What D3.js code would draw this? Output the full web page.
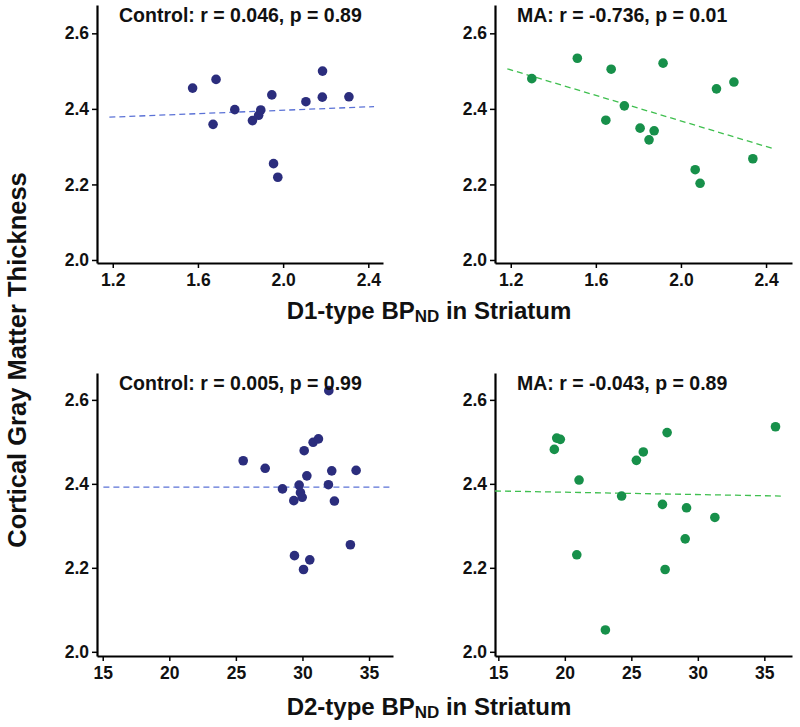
<!DOCTYPE html>
<html>
<head>
<meta charset="utf-8">
<script src="https://cdn.jsdelivr.net/npm/d3@7"></script>
<style>
  body { margin: 0; background: #fff; }
  text { font-family: "Liberation Sans", Arial, sans-serif; font-weight: bold; }
</style>
</head>
<body>
<script>
const svgW = 800;
const svgH = 727;

// D1-type BPND vs thickness, control group
const d1CtrlX = [1.575, 1.685, 1.671, 1.773, 1.856, 1.885, 1.895, 1.947, 1.955, 1.975, 2.107, 2.185, 2.184, 2.309];
const d1CtrlY = [2.455, 2.478, 2.359, 2.398, 2.369, 2.383, 2.397, 2.437, 2.255, 2.219, 2.419, 2.500, 2.431, 2.432];
// D1-type, MA group
const d1MaX = [1.299, 1.513, 1.672, 1.647, 1.734, 1.808, 1.850, 1.874, 1.916, 2.067, 2.090, 2.167, 2.249, 2.338];
const d1MaY = [2.480, 2.534, 2.505, 2.370, 2.408, 2.349, 2.318, 2.342, 2.521, 2.239, 2.203, 2.453, 2.471, 2.268];
// D2-type, control group
const d2CtrlX = [25.55, 27.2, 28.5, 29.35, 29.75, 29.85, 29.98, 30.13, 30.33, 30.8, 31.2, 31.98, 31.95, 32.2, 32.4, 34.03, 33.6, 29.4, 30.55, 30.08];
const d2CtrlY = [2.455, 2.437, 2.388, 2.360, 2.397, 2.379, 2.368, 2.479, 2.419, 2.499, 2.507, 2.622, 2.398, 2.431, 2.359, 2.432, 2.255, 2.229, 2.219, 2.196];
// D2-type, MA group
const d2MaX = [19.21, 19.39, 19.66, 21.07, 20.9, 23.05, 24.27, 25.38, 25.9, 27.34, 27.69, 27.54, 29.05, 29.15, 31.28, 35.84];
const d2MaY = [2.482, 2.509, 2.506, 2.409, 2.231, 2.052, 2.371, 2.456, 2.476, 2.351, 2.522, 2.196, 2.269, 2.343, 2.320, 2.536];

// fitted lines (end points)
const fitD1CtrlX = [1.184, 2.427], fitD1CtrlY = [2.378, 2.406];
const fitD1MaX = [1.184, 2.432], fitD1MaY = [2.506, 2.295];
const fitD2CtrlX = [15.05, 36.55], fitD2CtrlY = [2.392, 2.392];
const fitD2MaX = [14.75, 36.24], fitD2MaY = [2.383, 2.371];

const titles = ['Control: r = 0.046, p = 0.89', 'MA: r = -0.736, p = 0.01',
                'Control: r = 0.005, p = 0.99', 'MA: r = -0.043, p = 0.89'];
const yTicks = [2.0, 2.2, 2.4, 2.6];
const d1Ticks = [1.2, 1.6, 2.0, 2.4];
const d2Ticks = [15, 20, 25, 30, 35];

const ctrlDot = '#2b2d7d', ctrlLine = '#5b72d6';
const maDot = '#17904a', maLine = '#3fbf4f';

const panels = [
  { xs: d1CtrlX, ys: d1CtrlY, fx: fitD1CtrlX, fy: fitD1CtrlY, dot: ctrlDot, line: ctrlLine,
    xDom: [1.126, 2.469], xR: [97, 383], yDom: [1.992, 2.675], yR: [263, 5], ticks: d1Ticks, fmt: d3.format('.1f'), title: titles[0] },
  { xs: d1MaX, ys: d1MaY, fx: fitD1MaX, fy: fitD1MaY, dot: maDot, line: maLine,
    xDom: [1.126, 2.522], xR: [495, 792], yDom: [1.992, 2.675], yR: [263, 5], ticks: d1Ticks, fmt: d3.format('.1f'), title: titles[1] },
  { xs: d2CtrlX, ys: d2CtrlY, fx: fitD2CtrlX, fy: fitD2CtrlY, dot: ctrlDot, line: ctrlLine,
    xDom: [14.57, 36.8], xR: [97, 393], yDom: [1.99, 2.664], yR: [656, 373], ticks: d2Ticks, fmt: d3.format('d'), title: titles[2] },
  { xs: d2MaX, ys: d2MaY, fx: fitD2MaX, fy: fitD2MaY, dot: maDot, line: maLine,
    xDom: [14.75, 37.08], xR: [495, 792], yDom: [1.99, 2.664], yR: [656, 373], ticks: d2Ticks, fmt: d3.format('d'), title: titles[3] }
];

const svg = d3.select('body').append('svg')
  .attr('width', svgW).attr('height', svgH);

panels.forEach(p => {
  const x = d3.scaleLinear().domain(p.xDom).range(p.xR);
  const y = d3.scaleLinear().domain(p.yDom).range(p.yR);
  const g = svg.append('g');

  // x axis
  const xa = g.append('g')
    .attr('transform', `translate(0,${p.yR[0]})`)
    .call(d3.axisBottom(x).tickValues(p.ticks).tickFormat(p.fmt).tickSize(5).tickSizeOuter(0));
  xa.select('.domain').attr('stroke', '#000').attr('stroke-width', 2.2);
  xa.selectAll('.tick line').attr('stroke-width', 1.5);
  xa.selectAll('.tick text').attr('font-size', 17.5).attr('dy', '0.85em').attr('fill', '#111');

  // y axis
  const ya = g.append('g')
    .attr('transform', `translate(${p.xR[0]},0)`)
    .call(d3.axisLeft(y).tickValues(yTicks).tickFormat(d3.format('.1f')).tickSize(5).tickSizeOuter(0));
  ya.select('.domain').attr('stroke', '#000').attr('stroke-width', 2.2);
  ya.selectAll('.tick line').attr('stroke-width', 1.5);
  ya.selectAll('.tick text').attr('font-size', 17.5).attr('fill', '#111');

  // fitted line
  g.append('line')
    .attr('x1', x(p.fx[0])).attr('y1', y(p.fy[0]))
    .attr('x2', x(p.fx[1])).attr('y2', y(p.fy[1]))
    .attr('stroke', p.line).attr('stroke-width', 1.3)
    .attr('stroke-dasharray', '6,4');

  // points
  g.selectAll('circle')
    .data(d3.range(p.xs.length))
    .enter().append('circle')
    .attr('cx', i => x(p.xs[i]))
    .attr('cy', i => y(p.ys[i]))
    .attr('r', 4.8)
    .attr('fill', p.dot);

  // panel title
  g.append('text')
    .attr('x', p.xR[0] + 22)
    .attr('y', p.yR[1] + 17)
    .attr('font-size', 19.5)
    .attr('fill', '#111')
    .text(p.title);
});

// x axis titles
function xTitle(label, yPos) {
  const t = svg.append('text')
    .attr('x', 429).attr('y', yPos)
    .attr('text-anchor', 'middle')
    .attr('font-size', 24)
    .attr('fill', '#111');
  t.append('tspan').text(label + '-type BP');
  t.append('tspan').attr('font-size', 17).attr('dy', 3).text('ND');
  t.append('tspan').attr('dy', -3).text(' in Striatum');
}
xTitle('D1', 319);
xTitle('D2', 715);

// y axis title
svg.append('text')
  .attr('transform', 'translate(26,360) rotate(-90)')
  .attr('text-anchor', 'middle')
  .attr('font-size', 25.5)
  .attr('fill', '#111')
  .text('Cortical Gray Matter Thickness');
</script>
</body>
</html>
